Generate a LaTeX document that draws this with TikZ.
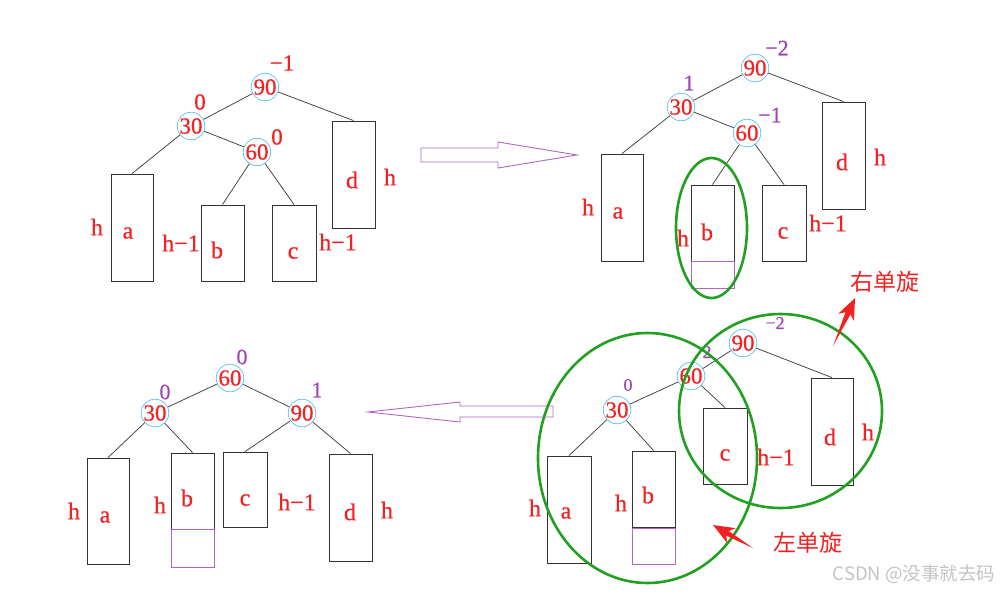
\documentclass[tikz,border=0pt]{standalone}
\usepackage{fontspec}
\setmainfont{Liberation Serif}[FakeBold=0.6]
\newfontfamily\cjk{Noto Sans CJK SC}
\usetikzlibrary{calc}
\definecolor{tred}{HTML}{F22222}
\definecolor{tpurple}{HTML}{A044B8}
\definecolor{tblue}{HTML}{44B8F0}
\definecolor{tgreen}{HTML}{22A022}
\definecolor{tline}{HTML}{404040}
\definecolor{apurple}{HTML}{B464C4}
\definecolor{wgray}{HTML}{C4C4C4}
\begin{document}
\begin{tikzpicture}[x=1pt,y=-1pt,
  key/.style={circle,draw=tblue,line width=0.6pt,minimum size=27pt,inner sep=0pt,text=tred,font=\fontsize{23}{23}\selectfont},
  sub/.style={draw=black!80,line width=0.9pt,inner sep=0pt},
  extra/.style={draw=apurple,line width=0.8pt,inner sep=0pt},
  lbl/.style={text=tred,font=\fontsize{24}{24}\selectfont,inner sep=0pt},
  bal/.style={text=tpurple,font=\fontsize{22}{22}\selectfont,inner sep=0pt},
  sbal/.style={text=tpurple,font=\fontsize{18}{18}\selectfont,inner sep=0pt},
  redlbl/.style={text=tred,font=\fontsize{23}{23}\selectfont,inner sep=0pt},
  link/.style={draw=tline,line width=0.75pt},
  hollow/.style={draw=apurple,line width=0.9pt,line join=miter},
  ring/.style={draw=tgreen,line width=2.6pt},
  redarrow/.style={fill=tred,draw=none},
  cjktext/.style={text=tred,font=\cjk\fontsize{23}{23}\selectfont,inner sep=0pt},
  wmark/.style={text=wgray,font=\cjk\fontsize{18.5}{18.5}\selectfont,inner sep=0pt}]
\useasboundingbox (0,0) rectangle (1003,592);
\fill[white] (0,0) rectangle (1003,592);

% ---------- top-left tree ----------
\node[key] (A90) at (265,87) {90};
\node[key] (A30) at (191,126) {30};
\node[key] (A60) at (257,152) {60};
\node[redlbl] (A90b) at (282,63) {−1};
\node[redlbl] (A30b) at (200,102) {0};
\node[redlbl] (A60b) at (277,137) {0};
\node[sub,minimum width=42pt,minimum height=107pt] (Aa) at (132,227.5) {};
\node[sub,minimum width=43pt,minimum height=76pt] (Ab) at (222.5,243) {};
\node[sub,minimum width=44pt,minimum height=76pt] (Ac) at (294,243) {};
\node[sub,minimum width=43pt,minimum height=107pt] (Ad) at (353.5,174.5) {};
\node[lbl] (Aat) at (128,233) {a};
\node[lbl] (Abt) at (217,250) {b};
\node[lbl] (Act) at (293,253) {c};
\node[lbl] (Adt) at (352,180) {d};
\node[lbl] (Aah) at (97,227) {h};
\node[lbl] (Abh) at (181,243) {h−1};
\node[lbl] (Ach) at (338,242) {h−1};
\node[lbl] (Adh) at (390,177) {h};
\draw[link] (A90) -- (A30);
\draw[link] (A90) -- (Ad.north);
\draw[link] (A30) -- (Aa.north);
\draw[link] (A30) -- (A60);
\draw[link] (A60) -- (Ab.north);
\draw[link] (A60) -- (Ac.north);

% ---------- top arrow ----------
\draw[hollow] (421,148) -- (498,148) -- (498,142) -- (577,155) -- (498,168) -- (498,162) -- (421,162) -- cycle;

% ---------- top-right tree ----------
\node[key] (B90) at (755,68) {90};
\node[key] (B30) at (681,107) {30};
\node[key] (B60) at (747,133) {60};
\node[bal] (B90b) at (777,48) {−2};
\node[bal] (B30b) at (689,83) {1};
\node[bal] (B60b) at (770,115) {−1};
\node[sub,minimum width=42pt,minimum height=107pt] (Ba) at (622,207.5) {};
\node[sub,minimum width=43pt,minimum height=76pt] (Bb) at (712.5,223) {};
\node[extra,minimum width=43pt,minimum height=27pt] (Bx) at (712.5,274.5) {};
\node[sub,minimum width=44pt,minimum height=76pt] (Bc) at (784,223) {};
\node[sub,minimum width=43pt,minimum height=107pt] (Bd) at (843.5,155.5) {};
\node[lbl] (Bat) at (618,213) {a};
\node[lbl] (Bbt) at (707,232) {b};
\node[lbl] (Bct) at (783,233) {c};
\node[lbl] (Bdt) at (842,162) {d};
\node[lbl] (Bah) at (588,207) {h};
\node[lbl] (Bbh) at (683,238) {h};
\node[lbl] (Bch) at (828,223) {h−1};
\node[lbl] (Bdh) at (880,157) {h};
\draw[link] (B90) -- (B30);
\draw[link] (B90) -- (Bd.north);
\draw[link] (B30) -- (Ba.north);
\draw[link] (B30) -- (B60);
\draw[link] (B60) -- (Bb.north);
\draw[link] (B60) -- (Bc.north);
\draw[ring] (711.5,228) ellipse [x radius=35.5, y radius=70];

% ---------- bottom arrow ----------
\draw[hollow] (553,406) -- (460,406) -- (460,402) -- (368,412) -- (460,422) -- (460,417) -- (553,417) -- cycle;

% ---------- bottom-left tree ----------
\node[key] (C60) at (230,378) {60};
\node[key] (C30) at (155,413) {30};
\node[key] (C90) at (302,413) {90};
\node[bal] (C60b) at (242,357) {0};
\node[bal] (C30b) at (165,392) {0};
\node[bal] (C90b) at (317,390) {1};
\node[sub,minimum width=42pt,minimum height=106pt] (Ca) at (108,511) {};
\node[sub,minimum width=43pt,minimum height=76pt] (Cb) at (192.5,491) {};
\node[extra,minimum width=43pt,minimum height=38pt] (Cx) at (192.5,548) {};
\node[sub,minimum width=44pt,minimum height=75pt] (Cc) at (245,489.5) {};
\node[sub,minimum width=43pt,minimum height=107pt] (Cd) at (350.5,507.5) {};
\node[lbl] (Cat) at (105,517) {a};
\node[lbl] (Cbt) at (187,498) {b};
\node[lbl] (Cct) at (245,500) {c};
\node[lbl] (Cdt) at (350,512) {d};
\node[lbl] (Cah) at (74,511) {h};
\node[lbl] (Cbh) at (160,505) {h};
\node[lbl] (Cch) at (297,502) {h−1};
\node[lbl] (Cdh) at (387,510) {h};
\draw[link] (C60) -- (C30);
\draw[link] (C60) -- (C90);
\draw[link] (C30) -- (Ca.north);
\draw[link] (C30) -- (Cb.north);
\draw[link] (C90) -- (Cc.north);
\draw[link] (C90) -- (Cd.north);

% ---------- bottom-right tree ----------
\node[key] (D90) at (743,343) {90};
\node[key] (D60) at (691,376) {60};
\node[key] (D30) at (617,410) {30};
\node[sbal] (D90b) at (775,323) {−2};
\node[sbal] (D60b) at (707,352) {2};
\node[sbal] (D30b) at (628,385) {0};
\node[sub,minimum width=44pt,minimum height=107pt] (Da) at (569,509.5) {};
\node[sub,minimum width=43pt,minimum height=76pt] (Db) at (653.5,489) {};
\node[extra,minimum width=43pt,minimum height=36pt] (Dx) at (653.5,546) {};
\node[sub,minimum width=44pt,minimum height=76pt] (Dc) at (725,446) {};
\node[sub,minimum width=42pt,minimum height=107pt] (Dd) at (832,431.5) {};
\node[lbl] (Dat) at (566,513) {a};
\node[lbl] (Dbt) at (648,495) {b};
\node[lbl] (Dct) at (725,455) {c};
\node[lbl] (Ddt) at (830,437) {d};
\node[lbl] (Dah) at (535,508) {h};
\node[lbl] (Dbh) at (621,503) {h};
\node[lbl] (Dch) at (776,457) {h−1};
\node[lbl] (Ddh) at (868,432) {h};
\draw[link] (D90) -- (D60);
\draw[link] (D90) -- (Dd.north);
\draw[link] (D60) -- (D30);
\draw[link] (D60) -- (Dc.north);
\draw[link] (D30) -- (Da.north);
\draw[link] (D30) -- (Db.north);
\draw[ring] (647.5,458) ellipse [x radius=109.5, y radius=125];
\draw[ring] (780.5,411) ellipse [x radius=101.5, y radius=97];

% ---------- red arrows and captions ----------
\coordinate (R1t) at (833,346);
\coordinate (R1h) at (855,298);
\coordinate (R2t) at (753,548);
\coordinate (R2h) at (713,525);
\fill[redarrow] (R1t) -- ($(R1h)!17pt!9:(R1t)$) -- ($(R1h)!23pt!22:(R1t)$) -- (R1h) -- ($(R1h)!23pt!-22:(R1t)$) -- ($(R1h)!17pt!-9:(R1t)$) -- cycle;
\fill[redarrow] (R2t) -- ($(R2h)!17pt!9:(R2t)$) -- ($(R2h)!23pt!22:(R2t)$) -- (R2h) -- ($(R2h)!23pt!-22:(R2t)$) -- ($(R2h)!17pt!-9:(R2t)$) -- cycle;
\node[cjktext] (rot1) at (885,282) {右单旋};
\node[cjktext] (rot2) at (808,543) {左单旋};
\node[wmark] (wm) at (914,574) {CSDN @没事就去码};
\end{tikzpicture}
\end{document}
